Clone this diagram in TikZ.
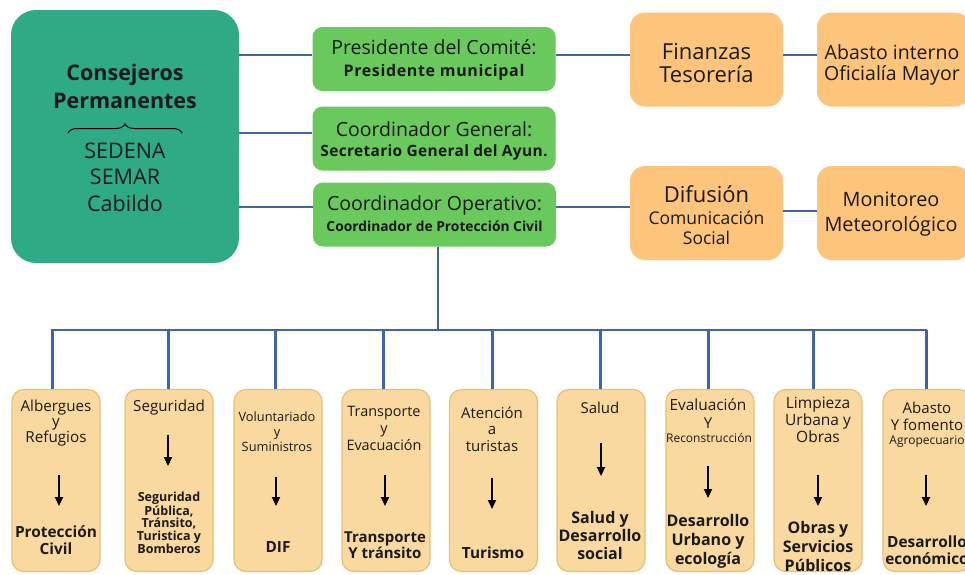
\documentclass[tikz,border=0pt]{standalone}
\usepackage{fontspec}
\setmainfont{Open Sans}
\usetikzlibrary{arrows.meta,decorations.pathreplacing}
\definecolor{bigc}{HTML}{2EAB84}
\definecolor{greenc}{HTML}{6AC95D}
\definecolor{orangec}{HTML}{FDC47C}
\definecolor{palec}{HTML}{FAD9A0}
\definecolor{bordc}{HTML}{E9BE70}
\definecolor{linec}{HTML}{3E65A9}
\definecolor{txtc}{HTML}{1A1A1A}
\newcommand{\fs}[2]{\fontsize{#1}{#2}\selectfont}
\newcommand{\lsp}[1]{\addfontfeature{LetterSpace=#1}}
\tikzset{
  bigbox/.style={fill=bigc, rounded corners=25pt, minimum width=228pt, minimum height=253pt, inner sep=0pt},
  gbox/.style={fill=greenc, rounded corners=10pt, minimum width=243pt, minimum height=64pt, inner sep=0pt},
  obox/.style={fill=orangec, rounded corners=15pt, minimum width=153pt, minimum height=94pt, inner sep=0pt},
  lbox/.style={fill=palec, draw=bordc, line width=1.2pt, rounded corners=12pt, minimum width=88pt, minimum height=182pt, inner sep=0pt},
  txt/.style={align=center, inner sep=0pt, text=txtc},
  link/.style={draw=linec, line width=2pt},
  droplink/.style={draw=linec, line width=3pt},
  darr/.style={-{Triangle[length=9pt,width=8pt]}, line width=1.9pt, black},
}
\begin{document}
\begin{tikzpicture}[x=1pt,y=-1pt]
\useasboundingbox (0,0) rectangle (965,574);
% big box
\node[bigbox] (big) at (125,136.5) {};
\node[txt, font=\bfseries\fs{21.5}{28}] (bigt) at (125,86) {Consejeros\\Permanentes};
\node[txt, font=\fs{21.5}{26.5}] (bigb) at (125,177) {SEDENA\\SEMAR\\Cabildo};
\coordinate (brL) at (68,133);
\coordinate (brR) at (182,133);
\draw[line width=1pt, decorate, decoration={brace, amplitude=9pt}] (brL) -- (brR);
% green boxes
\node[gbox] (pres) at (434,59) {};
\node[txt, font=\fs{19.5}{22}] (pres1) at (434,47) {Presidente del Comité:};
\node[txt, font=\bfseries\fs{16}{18}\lsp{4}] (pres2) at (434,72) {Presidente municipal};
\node[gbox] (cgen) at (434,138.5) {};
\node[txt, font=\fs{19.5}{22}] (cgen1) at (434,129) {Coordinador General:};
\node[txt, font=\bfseries\fs{15.5}{18}\lsp{2}] (cgen2) at (434,152) {Secretario General del Ayun.};
\node[gbox] (coop) at (434.5,214.5) {};
\node[txt, font=\fs{19.5}{22}] (coop1) at (434.5,205) {Coordinador Operativo:};
\node[txt, font=\bfseries\fs{13.8}{16}] (coop2) at (434.5,226) {Coordinador de Protección Civil};
% orange top boxes
\node[obox] (fin) at (706.5,59.5) {};
\node[txt, font=\fs{22}{23}] (fint) at (706.5,63) {Finanzas\\Tesorería};
\node[obox] (aba) at (893.5,59.5) {};
\node[txt, font=\fs{19.5}{20.5}] (abat) at (892,65) {Abasto interno\\Oficialía Mayor};
\node[obox] (dif) at (706.5,213) {};
\node[txt, font=\fs{22}{24}] (dif1) at (706.5,194) {Difusión};
\node[txt, font=\fs{17.5}{20.5}] (dif2) at (706.5,228) {Comunicación\\Social};
\node[obox] (mon) at (893.5,213) {};
\node[txt, font=\fs{19.8}{25}] (mont) at (891,214) {Monitoreo\\Meteorológico};
% top links
\coordinate (ya) at (0,55);
\coordinate (yb) at (0,133);
\coordinate (yc) at (0,207);
\coordinate (yd) at (0,211);
\draw[link] (big.east |- ya) -- (pres.west |- ya);
\draw[link] (big.east |- yb) -- (cgen.west |- yb);
\draw[link] (big.east |- yc) -- (coop.west |- yc);
\draw[link] (pres.east |- ya) -- (fin.west |- ya);
\draw[link] (fin.east |- ya) -- (aba.west |- ya);
\draw[link] (coop.east |- yc) -- (dif.west |- yc);
\draw[link] (dif.east |- yd) -- (mon.west |- yd);
% trunk and bar
\coordinate (vx) at (438,330);
\coordinate (bl) at (52,330);
\coordinate (br) at (926,330);
\draw[link] (coop.south -| vx) -- (vx);
\draw[link, line cap=rect] (bl) -- (br);
% lower boxes
\node[lbox] (b1) at (56,480.5) {};
\node[lbox] (b2) at (169,480.5) {};
\node[lbox] (b3) at (278,480.5) {};
\node[lbox] (b4) at (386,480.5) {};
\node[lbox] (b5) at (493.5,480.5) {};
\node[lbox] (b6) at (601,480.5) {};
\node[lbox] (b7) at (710,480.5) {};
\node[lbox] (b8) at (818,480.5) {};
\node[lbox] (b9) at (927,480.5) {};
% drops
\coordinate (d1) at (52,330);
\coordinate (d2) at (168,330);
\coordinate (d3) at (275,330);
\coordinate (d4) at (383,330);
\coordinate (d5) at (492,330);
\coordinate (d6) at (600,330);
\coordinate (d7) at (708,330);
\coordinate (d8) at (813,330);
\coordinate (d9) at (926,330);
\foreach \i in {1,...,9}{\draw[droplink] (d\i) -- (d\i |- b\i.north);}
% box 1
\node[txt, font=\fs{15.2}{15.5}] (t1) at (56,423) {Albergues\\y\\Refugios};
\coordinate (a1s) at (59,475); \coordinate (a1e) at (59,506);
\draw[darr] (a1s) -- (a1e);
\node[txt, font=\bfseries\fs{15.4}{16.5}] (u1) at (56,540) {Protección\\Civil};
% box 2
\node[txt, font=\fs{15.2}{15.5}] (t2) at (169,408) {Seguridad};
\coordinate (a2s) at (168,435); \coordinate (a2e) at (168,466);
\draw[darr] (a2s) -- (a2e);
\node[txt, font=\bfseries\fs{12.5}{12.3}] (u2) at (169,523) {Seguridad\\Pública,\\Tránsito,\\Turistica y\\Bomberos};
% box 3
\node[txt, font=\fs{12.8}{15}] (t3) at (277,432) {Voluntariado\\y\\Suministros};
\coordinate (a3s) at (276,477); \coordinate (a3e) at (276,506);
\draw[darr] (a3s) -- (a3e);
\node[txt, font=\bfseries\fs{15.4}{16.5}] (u3) at (278,547) {DIF};
% box 4
\node[txt, font=\fs{14.4}{17}] (t4) at (384,428) {Transporte\\y\\Evacuación};
\coordinate (a4s) at (385,475); \coordinate (a4e) at (385,506);
\draw[darr] (a4s) -- (a4e);
\node[txt, font=\bfseries\fs{15}{16.5}] (u4) at (385,545) {Transporte\\Y tránsito};
% box 5
\node[txt, font=\fs{15}{16.5}] (t5) at (492,429) {Atención\\a\\turistas};
\coordinate (a5s) at (492,478); \coordinate (a5e) at (492,509);
\draw[darr] (a5s) -- (a5e);
\node[txt, font=\bfseries\fs{15.4}{16.5}] (u5) at (493,553) {Turismo};
% box 6
\node[txt, font=\fs{15}{16}] (t6) at (600,408) {Salud};
\coordinate (a6s) at (601,443); \coordinate (a6e) at (601,476);
\draw[darr] (a6s) -- (a6e);
\node[txt, font=\bfseries\fs{16}{18}] (u6) at (600,535) {Salud y\\Desarrollo\\social};
% box 7
\node[txt, font=\fs{15.4}{16}] (t7a) at (708,405) {Evaluación};
\node[txt, font=\fs{15}{16}] (t7b) at (708,423) {Y};
\node[txt, font=\fs{12}{14}] (t7c) at (709,438) {Reconstrucción};
\coordinate (a7s) at (708,466); \coordinate (a7e) at (708,498);
\draw[darr] (a7s) -- (a7e);
\node[txt, font=\bfseries\fs{16}{19}] (u7) at (708,541) {Desarrollo\\Urbano y\\ecología};
% box 8
\node[txt, font=\fs{15.5}{17}] (t8) at (818,420) {Limpieza\\Urbana y\\Obras};
\coordinate (a8s) at (818,475); \coordinate (a8e) at (818,506);
\draw[darr] (a8s) -- (a8e);
\node[txt, font=\bfseries\fs{16}{19}] (u8) at (818,546) {Obras y\\Servicios\\Públicos};
% box 9
\node[txt, font=\fs{15}{17}] (t9a) at (927,416.5) {Abasto\\Y fomento};
\node[txt, font=\fs{12}{14}] (t9b) at (927,442) {Agropecuario};
\coordinate (a9s) at (926,475); \coordinate (a9e) at (926,506);
\draw[darr] (a9s) -- (a9e);
\node[txt, font=\bfseries\fs{15.4}{16.5}] (u9) at (927,550) {Desarrollo\\económico};
\end{tikzpicture}
\end{document}
